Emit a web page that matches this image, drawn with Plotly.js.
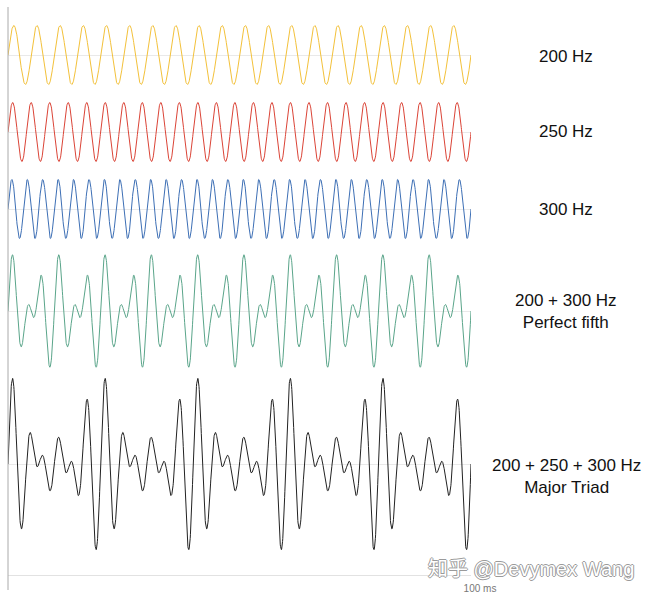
<!DOCTYPE html>
<html>
<head>
<meta charset="utf-8">
<script src="https://cdn.plot.ly/plotly-3.0.1.min.js"></script>
<style>html,body{margin:0;padding:0;background:#fff;}</style>
</head>
<body>
<div id="chart" style="width:650px;height:599px;"></div>
<script>
// ---- data ----
const toneFrequenciesHz = [200, 250, 300];
const seriesLabels = ["200 Hz", "250 Hz", "300 Hz", "200 + 300 Hz<br>Perfect fifth", "200 + 250 + 300 Hz<br>Major Triad"];
const seriesComponentsHz = [[200], [250], [300], [200, 300], [200, 250, 300]];
const seriesColors = ["#f3c13a", "#db4437", "#3d6fb5", "#5aa58a", "#222222"];
const durationMs = 100;
const sampleStepMs = 0.05;
const xTickVals = [100];
const xTickText = ["100 ms"];
const watermarkText = "知乎 @Devymex Wang";

// ---- time samples ----
const timeMs = [];
for (let i = 0; i <= Math.round(durationMs / sampleStepMs); i++) timeMs.push(i * sampleStepMs);

function waveform(freqs) {
  return timeMs.map(t => freqs.reduce((s, f) => s + Math.sin(2 * Math.PI * f * t / 1000), 0));
}

// ---- layout geometry (pixels) ----
const W = 650, H = 599;
const mL = 8, mR = 179, mT = 8, mB = 24;
const plotH = H - mT - mB;           // 567
const plotW = W - mL - mR;           // 463
const bottomPx = H - mB;             // 575
const pxPerUnit = 29.5;
const centersPx = [55, 132, 209, 311, 464];
const halfPx = [36, 36, 36, 58, 92];
const labelYPx = [56, 131, 209, 311, 476];
const labelXPx = 566;

const toFrac = px => (bottomPx - px) / plotH;

const traces = [];
const layout = {
  width: W, height: H,
  margin: {l: mL, r: mR, t: mT, b: mB, pad: 0},
  paper_bgcolor: "#ffffff",
  plot_bgcolor: "#ffffff",
  showlegend: false,
  font: {family: "Liberation Sans, Arial, sans-serif", color: "#111"},
  xaxis: {
    range: [0, durationMs],
    anchor: "free", position: 0,
    showgrid: false, zeroline: false,
    showline: true, linecolor: "#e2e2e2", linewidth: 1,
    tickvals: xTickVals, ticktext: xTickText,
    ticks: "", tickfont: {size: 10, color: "#777"},
    ticklabelshift: 9, ticklabelstandoff: 4,
    fixedrange: true
  },
  annotations: [],
  shapes: [{
    type: "line", xref: "paper", yref: "paper",
    x0: 0, x1: 0, y0: toFrac(590), y1: toFrac(7),
    line: {color: "#aaaaaa", width: 1}
  }]
};

seriesComponentsHz.forEach((comp, i) => {
  const axName = i === 0 ? "yaxis" : "yaxis" + (i + 1);
  const axRef = i === 0 ? "y" : "y" + (i + 1);
  const R = halfPx[i] / pxPerUnit;
  layout[axName] = {
    domain: [toFrac(centersPx[i] + halfPx[i]), toFrac(centersPx[i] - halfPx[i])],
    range: [-R, R],
    anchor: "x",
    showgrid: false, showticklabels: false, ticks: "",
    zeroline: true, zerolinecolor: "#e9e9e9", zerolinewidth: 1,
    showline: false, fixedrange: true
  };
  traces.push({
    type: "scatter", mode: "lines",
    x: timeMs, y: waveform(comp),
    xaxis: "x", yaxis: axRef,
    line: {color: seriesColors[i], width: 1},
    hoverinfo: "skip"
  });
  layout.annotations.push({
    xref: "paper", yref: "paper",
    x: (labelXPx - mL) / plotW, y: toFrac(labelYPx[i]),
    xanchor: "center", yanchor: "middle",
    text: seriesLabels[i], showarrow: false, align: "center",
    font: {size: 17, color: "#111", family: "Liberation Sans, Arial, sans-serif"}
  });
});

layout.annotations.push({
  xref: "paper", yref: "paper",
  x: (531 - mL) / plotW, y: toFrac(569),
  xanchor: "center", yanchor: "middle",
  text: watermarkText, showarrow: false,
  font: {size: 20, color: "#ffffff", family: "Liberation Sans, Noto Sans CJK SC, sans-serif",
         shadow: "-1px 0 #9a9a9a, 1px 0 #9a9a9a, 0 -1px #9a9a9a, 0 1px #9a9a9a"}
});

Plotly.newPlot("chart", traces, layout, {staticPlot: true, displayModeBar: false});
</script>
</body>
</html>
